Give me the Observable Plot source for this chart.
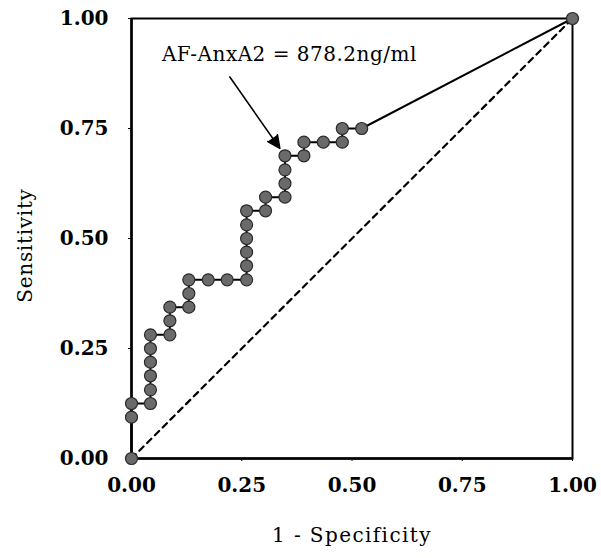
<!DOCTYPE html>
<html>
<head>
<meta charset="utf-8">
<script src="https://cdn.jsdelivr.net/npm/d3@7"></script>
<script src="https://cdn.jsdelivr.net/npm/@observablehq/plot@0.6"></script>
<style>
  html, body { margin: 0; padding: 0; background: #fff; }
</style>
</head>
<body>
<div id="chart"></div>
<script>
// ROC curve points (1 - Specificity, Sensitivity)
const fpr = [0, 0, 0, 0.043, 0.043, 0.043, 0.043, 0.043, 0.043, 0.087, 0.087, 0.087,
  0.130, 0.130, 0.130, 0.174, 0.217, 0.261, 0.261, 0.261, 0.261, 0.261, 0.261,
  0.304, 0.304, 0.348, 0.348, 0.348, 0.348, 0.391, 0.391, 0.435, 0.478, 0.478, 0.522, 1];
const tpr = [0, 0.094, 0.125, 0.125, 0.156, 0.188, 0.219, 0.25, 0.281, 0.281, 0.313, 0.344,
  0.344, 0.375, 0.406, 0.406, 0.406, 0.406, 0.438, 0.469, 0.5, 0.531, 0.563,
  0.563, 0.594, 0.594, 0.625, 0.656, 0.688, 0.688, 0.719, 0.719, 0.719, 0.75, 0.75, 1];
// reference (chance) line
const chanceX = [0, 1];
const chanceY = [0, 1];
// tick labels
const tickValues = [0, 0.25, 0.5, 0.75, 1];
// annotation
const annotationLabel = ["AF-AnxA2 = 878.2ng/ml"];
const annotationTextX = [0.358];
const annotationTextY = [0.918];
const arrowStartX = [0.223];
const arrowStartY = [0.867];
const cutoffIndex = [28]; // point (0.348, 0.688)
const xTitle = "1 - Specificity";
const yTitle = "Sensitivity";

const points = fpr.map((x, i) => ({x, y: tpr[i]}));
const chance = chanceX.map((x, i) => ({x, y: chanceY[i]}));
const annText = annotationLabel.map((t, i) => ({t, x: annotationTextX[i], y: annotationTextY[i]}));
const arrows = cutoffIndex.map((k, i) => ({x1: arrowStartX[i], y1: arrowStartY[i], x2: fpr[k], y2: tpr[k]}));

const fmt = d3.format(".2f");
const font = "DejaVu Serif";

const plot = Plot.plot({
  width: 601,
  height: 558,
  marginLeft: 131,
  marginRight: 29,
  marginTop: 18,
  marginBottom: 100,
  style: {fontFamily: font, color: "black", background: "white", overflow: "visible"},
  x: {domain: [0, 1]},
  y: {domain: [0, 1]},
  marks: [
    Plot.frame({stroke: "black", strokeWidth: 2}),
    Plot.line(chance, {x: "x", y: "y", stroke: "black", strokeWidth: 2.2, strokeDasharray: "6,5"}),
    Plot.ruleX([0], {stroke: "black", strokeWidth: 2.5}),
    Plot.ruleY([0], {stroke: "black", strokeWidth: 2.5}),
    Plot.axisX({ticks: tickValues, tickFormat: fmt, tickSize: 3, tickPadding: 16, fontSize: 20, fontWeight: "bold", label: null}),
    Plot.axisY({ticks: tickValues, tickFormat: fmt, tickSize: 3, tickPadding: 20, fontSize: 20, fontWeight: "bold", label: null}),
    Plot.line(points, {x: "x", y: "y", stroke: "black", strokeWidth: 2}),
    Plot.dot(points, {x: "x", y: "y", r: 6, fill: "#6a6a6a", stroke: "#2a2a2a", strokeWidth: 1.2}),
    Plot.arrow(arrows, {x1: "x1", y1: "y1", x2: "x2", y2: "y2", stroke: "black", fill: "black", strokeWidth: 1.6, headLength: 13, headAngle: 50, insetEnd: 9}),
    Plot.text(annText, {x: "x", y: "y", text: "t", fontSize: 20, textAnchor: "middle", lineAnchor: "middle"}),
    Plot.text([xTitle], {frameAnchor: "bottom", dy: 77, fontSize: 20, textAnchor: "middle", lineAnchor: "middle"}),
    Plot.text([yTitle], {frameAnchor: "left", dx: -106, dy: 7, rotate: -90, fontSize: 20, textAnchor: "middle", lineAnchor: "middle"})
  ]
});

d3.select(plot).selectAll('g[aria-label="text"] text').each(function() {
  const t = this.textContent;
  if (t === xTitle) this.style.letterSpacing = "1.4px";
  else if (t === yTitle) this.style.letterSpacing = "0.7px";
  else this.style.letterSpacing = "0.5px";
});

document.getElementById("chart").appendChild(plot);
</script>
</body>
</html>
